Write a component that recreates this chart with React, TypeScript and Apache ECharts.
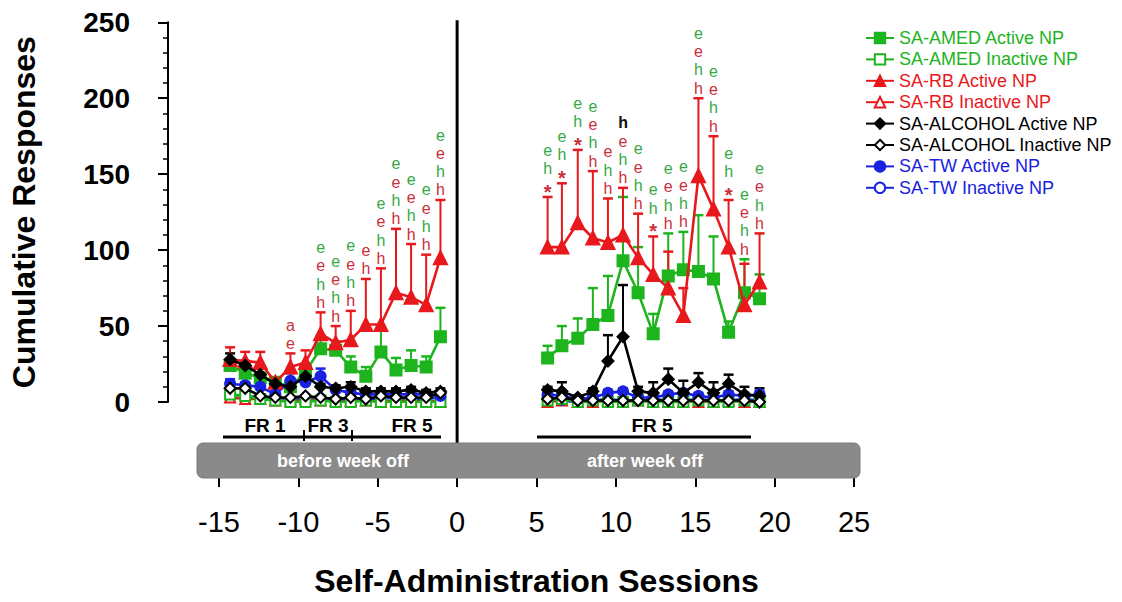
import React, { useEffect, useRef } from "react";
import * as echarts from "echarts";

// ---------- data ----------
const leftX = [-14.3, -13.35, -12.4, -11.45, -10.5, -9.55, -8.6, -7.65, -6.7, -5.75, -4.8, -3.85, -2.9, -1.95, -1.05];
const rightX = [5.7, 6.6, 7.6, 8.55, 9.5, 10.45, 11.4, 12.35, 13.3, 14.25, 15.2, 16.15, 17.1, 18.1, 19.05];

const amedActiveL = [24, 19, 16, 13, 10, 20, 35, 34, 23, 17, 33, 21, 24, 23, 43];
const amedActiveErrL = [27, 22, 19, 15, 12, 24, 44, 40, 30, 23, 49, 29, 34, 30, 62];
const amedActiveR = [29, 37, 42, 51, 57, 93, 72, 45, 83, 87, 86, 81, 46, 72, 68];
const amedActiveErrR = [37, 50, 55, 75, 83, 135, 102, 58, 111, 112, 123, 109, 53, 94, 84];
const amedInactiveL = [5, 4, 2, 1, 0, 0, 1, 0, 0, 1, 0, 0, 0, 0, 0];
const amedInactiveR = [1, 2, 0, 1, 0, 0, 1, 0, 0, 0, 1, 0, 0, 1, 0];

const rbActiveL = [28, 27, 26, 13, 23, 26, 45, 39, 41, 51, 51, 72, 69, 64, 95];
const rbActiveErrL = [36, 33, 33, 16, 32, 34, 59, 50, 60, 81, 88, 114, 104, 97, 133];
const rbActiveR = [102, 102, 118, 108, 105, 110, 95, 84, 75, 57, 149, 127, 102, 64, 79];
const rbActiveErrR = [135, 144, 166, 152, 134, 141, 124, 109, 99, 75, 200, 175, 133, 91, 111];
const rbInactiveL = [3, 2, 2, 1, 1, 2, 1, 1, 1, 1, 0, 1, 1, 1, 0];
const rbInactiveR = [0, 1, 0, 0, 1, 0, 1, 0, 0, 0, 0, 0, 1, 0, 0];

const alcoholActiveL = [28, 24, 18, 12, 10, 17, 10, 9, 10, 7, 7, 7, 8, 6, 7];
const alcoholActiveErrL = [32, 27, 22, 14, 12, 25, 12, 11, 13, 9, 9, 9, 10, 8, 9];
const alcoholActiveR = [8, 7, 3, 7, 27, 43, 7, 6, 15, 6, 13, 6, 12, 5, 4];
const alcoholActiveErrR = [10, 13, 4, 9, 44, 77, 10, 13, 22, 14, 19, 13, 18, 10, 9];
const alcoholInactiveL = [9, 9, 4, 3, 3, 4, 3, 2, 3, 2, 4, 3, 3, 3, 6];
const alcoholInactiveR = [2, 3, 1, 1, 1, 1, 1, 1, 1, 1, 1, 1, 1, 1, 0];

const twActiveL = [12, 11, 10, 5, 14, 13, 17, 8, 6, 5, 5, 5, 5, 5, 4];
const twActiveErrL = [15, 13, 12, 7, 19, 15, 22, 10, 8, 7, 7, 7, 7, 7, 6];
const twActiveR = [5, 4, 2, 3, 6, 7, 3, 3, 5, 6, 4, 3, 5, 4, 5];
const twActiveErrR = [7, 6, 3, 5, 8, 9, 5, 5, 7, 8, 6, 5, 7, 6, 7];
const twInactiveL = [5, 4, 3, 3, 2, 3, 3, 2, 2, 2, 2, 3, 2, 2, 3];
const twInactiveR = [2, 1, 0, 1, 2, 1, 1, 2, 1, 1, 2, 1, 1, 2, 1];

// significance letters per session (top to bottom) and their colours (g/r/k)
const annotL = ["", "", "", "", "ae", "", "eehh", "eehh", "eehh", "eh", "eehh", "eehh", "eehh", "eehh", "eehh"];
const annotColL = ["", "", "", "", "rr", "", "grgr", "grgr", "grgr", "rr", "grgr", "grgr", "grgr", "grgr", "grgr"];
const annotR = ["eh*", "eh*", "eh*", "eehh", "ehh", "hehh", "eehh", "eh*", "eehh", "eehh", "eehh", "eehh", "eh*", "eehh", "eehh"];
const annotColR = ["ggr", "ggr", "ggr", "grgr", "rgr", "krgr", "grgr", "ggr", "grgr", "grgr", "grgr", "grgr", "ggr", "grgr", "grgr"];

const yTicks = [0, 50, 100, 150, 200, 250];
const xTicks = [-15, -10, -5, 0, 5, 10, 15, 20, 25];

// ---------- styles ----------
const GREEN = "#1db41d";
const RED = "#e8191c";
const BLACK = "#000000";
const BLUE = "#1a22e0";
const LETTER = { g: "#36a845", r: "#c9303a", k: "#111111" } as Record<string, string>;
const FONT = "'Liberation Sans', Arial, Helvetica, sans-serif";
const NARROW = "'Liberation Sans Narrow', 'Arial Narrow', 'Liberation Sans', Arial, sans-serif";

function pairs(xs: number[], ys: number[]) {
  return xs.map((x, i) => [x, ys[i]]);
}
function joined(l: number[], r: number[]) {
  return [...pairs(leftX, l), [0, "-"], ...pairs(rightX, r)];
}
function errData(l: number[], le: number[], r: number[], re: number[]) {
  return [
    ...leftX.map((x, i) => [x, l[i], le[i]]),
    ...rightX.map((x, i) => [x, r[i], re[i]]),
  ];
}

export default function App() {
  const ref = useRef<HTMLDivElement>(null);
  useEffect(() => {
    if (!ref.current) return;
    const chart = echarts.init(ref.current, undefined, { renderer: "svg" });

    const lineSeries = (
      name: string,
      color: string,
      symbol: string,
      size: number,
      l: number[],
      r: number[],
      z: number
    ) => ({
      name,
      type: "line",
      data: joined(l, r),
      symbol,
      symbolSize: size,
      connectNulls: false,
      lineStyle: { color, width: 2.6 },
      itemStyle: { color, borderColor: color, borderWidth: 2 },
      z,
      emphasis: { disabled: true },
    });

    const errSeries = (color: string, data: any[], z: number) => ({
      type: "custom",
      data,
      z,
      silent: true,
      encode: { x: 0, y: 1 },
      renderItem: (_p: any, api: any) => {
        const x = api.value(0);
        const p0 = api.coord([x, api.value(1)]);
        const p1 = api.coord([x, api.value(2)]);
        return {
          type: "group",
          children: [
            { type: "line", shape: { x1: p0[0], y1: p0[1], x2: p1[0], y2: p1[1] }, style: { stroke: color, lineWidth: 2 } },
            { type: "line", shape: { x1: p1[0] - 5, y1: p1[1], x2: p1[0] + 5, y2: p1[1] }, style: { stroke: color, lineWidth: 2.5 } },
          ],
        };
      },
    });

    // annotation anchors = highest error cap at each session
    const anchorL = leftX.map((_, i) => Math.max(amedActiveErrL[i], rbActiveErrL[i], alcoholActiveErrL[i], twActiveErrL[i]));
    const anchorR = rightX.map((_, i) => Math.max(amedActiveErrR[i], rbActiveErrR[i], alcoholActiveErrR[i], twActiveErrR[i]));
    const annLetters = [...annotL, ...annotR];
    const annColors = [...annotColL, ...annotColR];
    const annData = [
      ...leftX.map((x, i) => [x, anchorL[i], i]),
      ...rightX.map((x, i) => [x, anchorR[i], leftX.length + i]),
    ];

    const option: any = {
      animation: false,
      backgroundColor: "#ffffff",
      textStyle: { fontFamily: FONT },
      grid: { left: 216, right: 268, top: 22.3, bottom: 198.7, containLabel: false },
      xAxis: {
        type: "value",
        min: xTicks[0],
        max: xTicks[xTicks.length - 1],
        interval: 5,
        offset: 75,
        axisLine: { show: false, onZero: false },
        axisTick: { show: true, length: 10, lineStyle: { color: "#000", width: 2 } },
        axisLabel: { fontSize: 29, color: "#000", margin: 30, fontFamily: FONT },
        splitLine: { show: false },
        name: "Self-Administration Sessions",
        nameLocation: "middle",
        nameGap: 88,
        nameTextStyle: { fontSize: 32, fontWeight: "bold", color: "#000", fontFamily: FONT },
      },
      yAxis: {
        type: "value",
        min: yTicks[0],
        max: yTicks[yTicks.length - 1],
        interval: 50,
        offset: 51,
        axisLine: { show: true, onZero: false, lineStyle: { color: "#000", width: 2 } },
        axisTick: { show: true, length: 10, lineStyle: { color: "#000", width: 2 } },
        minorTick: { show: true, splitNumber: 5, length: 5, lineStyle: { color: "#000", width: 1.5 } },
        axisLabel: { fontSize: 28, fontWeight: "bold", color: "#000", margin: 38, fontFamily: FONT },
        splitLine: { show: false },
        name: "Cumulative Responses",
        nameLocation: "middle",
        nameGap: 128,
        nameTextStyle: { fontSize: 32, fontWeight: "bold", color: "#000", fontFamily: FONT },
      },
      legend: {
        orient: "vertical",
        left: 860,
        top: 24,
        itemWidth: 28,
        itemHeight: 13,
        itemGap: 3.4,
        textStyle: { fontSize: 18, lineHeight: 18, fontFamily: FONT },
        data: [
          { name: "SA-AMED Active NP", textStyle: { color: GREEN } },
          { name: "SA-AMED Inactive NP", textStyle: { color: GREEN } },
          { name: "SA-RB Active NP", textStyle: { color: RED } },
          { name: "SA-RB Inactive NP", textStyle: { color: RED } },
          { name: "SA-ALCOHOL Active NP", textStyle: { color: BLACK } },
          { name: "SA-ALCOHOL Inactive NP", textStyle: { color: BLACK } },
          { name: "SA-TW Active NP", textStyle: { color: BLUE } },
          { name: "SA-TW Inactive NP", textStyle: { color: BLUE } },
        ],
      },
      series: [
        errSeries(GREEN, errData(amedActiveL, amedActiveErrL, amedActiveR, amedActiveErrR), 1),
        errSeries(RED, errData(rbActiveL, rbActiveErrL, rbActiveR, rbActiveErrR), 1),
        errSeries(BLUE, errData(twActiveL, twActiveErrL, twActiveR, twActiveErrR), 1),
        errSeries(BLACK, errData(alcoholActiveL, alcoholActiveErrL, alcoholActiveR, alcoholActiveErrR), 1),
        lineSeries("SA-AMED Active NP", GREEN, "rect", 11, amedActiveL, amedActiveR, 3),
        lineSeries("SA-AMED Inactive NP", GREEN, "emptyRect", 10, amedInactiveL, amedInactiveR, 3),
        lineSeries("SA-RB Active NP", RED, "triangle", 13, rbActiveL, rbActiveR, 4),
        lineSeries("SA-RB Inactive NP", RED, "emptyTriangle", 10, rbInactiveL, rbInactiveR, 2),
        lineSeries("SA-ALCOHOL Active NP", BLACK, "diamond", 11, alcoholActiveL, alcoholActiveR, 5),
        lineSeries("SA-ALCOHOL Inactive NP", BLACK, "emptyDiamond", 11, alcoholInactiveL, alcoholInactiveR, 6),
        lineSeries("SA-TW Active NP", BLUE, "circle", 10, twActiveL, twActiveR, 4),
        lineSeries("SA-TW Inactive NP", BLUE, "emptyCircle", 9, twInactiveL, twInactiveR, 2),
        {
          type: "custom",
          data: annData,
          z: 10,
          silent: true,
          encode: { x: 0, y: 1 },
          renderItem: (_p: any, api: any) => {
            const idx = api.value(2);
            const letters = annLetters[idx] || "";
            const cols = annColors[idx] || "";
            const p = api.coord([api.value(0), api.value(1)]);
            const n = letters.length;
            const children: any[] = [];
            for (let i = 0; i < n; i++) {
              const ch = letters[i];
              const star = ch === "*";
              const y = p[1] - 10 - (n - 1 - i) * 18.3 + (star ? 5 : 0);
              children.push({
                type: "text",
                x: p[0],
                y,
                style: {
                  text: ch,
                  fill: LETTER[cols[i]] || "#000",
                  font: star ? `bold 20px ${FONT}` : (cols[i] === "k" ? `bold 16px ${FONT}` : `16px ${FONT}`),
                  align: "center",
                  verticalAlign: "middle",
                },
              });
            }
            return { type: "group", children };
          },
        },
      ],
    };

    chart.setOption(option);

    const top = chart.convertToPixel({ xAxisIndex: 0, yAxisIndex: 0 }, [0, yTicks[yTicks.length - 1]]);
    const zeroX = top[0];

    chart.setOption({
      graphic: [
        { type: "line", shape: { x1: zeroX, y1: top[1] - 2, x2: zeroX, y2: 443 }, style: { stroke: "#000", lineWidth: 3 }, z: 20 },
        { type: "rect", shape: { x: 197, y: 443, width: 663, height: 35, r: 6 }, style: { fill: "#8a8a8a", stroke: "#7a7a7a", lineWidth: 1 }, z: 20 },
        { type: "text", x: 343, y: 461, style: { text: "before week off", fill: "#fff", font: `bold 18px ${NARROW}`, align: "center", verticalAlign: "middle" }, z: 21 },
        { type: "text", x: 645, y: 461, style: { text: "after week off", fill: "#fff", font: `bold 18px ${NARROW}`, align: "center", verticalAlign: "middle" }, z: 21 },
        { type: "line", shape: { x1: 223, y1: 437, x2: 441, y2: 437 }, style: { stroke: "#000", lineWidth: 3 }, z: 20 },
        { type: "line", shape: { x1: 304, y1: 430, x2: 304, y2: 441 }, style: { stroke: "#000", lineWidth: 2 }, z: 20 },
        { type: "line", shape: { x1: 352, y1: 430, x2: 352, y2: 441 }, style: { stroke: "#000", lineWidth: 2 }, z: 20 },
        { type: "line", shape: { x1: 537, y1: 437, x2: 751, y2: 437 }, style: { stroke: "#000", lineWidth: 3 }, z: 20 },
        { type: "text", x: 265, y: 425, style: { text: "FR 1", fill: "#000", font: `bold 19px ${NARROW}`, align: "center", verticalAlign: "middle" }, z: 21 },
        { type: "text", x: 328, y: 425, style: { text: "FR 3", fill: "#000", font: `bold 19px ${NARROW}`, align: "center", verticalAlign: "middle" }, z: 21 },
        { type: "text", x: 412, y: 425, style: { text: "FR 5", fill: "#000", font: `bold 19px ${NARROW}`, align: "center", verticalAlign: "middle" }, z: 21 },
        { type: "text", x: 652, y: 425, style: { text: "FR 5", fill: "#000", font: `bold 19px ${NARROW}`, align: "center", verticalAlign: "middle" }, z: 21 },
      ],
    });

    return () => chart.dispose();
  }, []);

  return (
    <div
      ref={ref}
      style={{ position: "fixed", left: 0, top: 0, width: 1122, height: 602, background: "#fff" }}
    />
  );
}
